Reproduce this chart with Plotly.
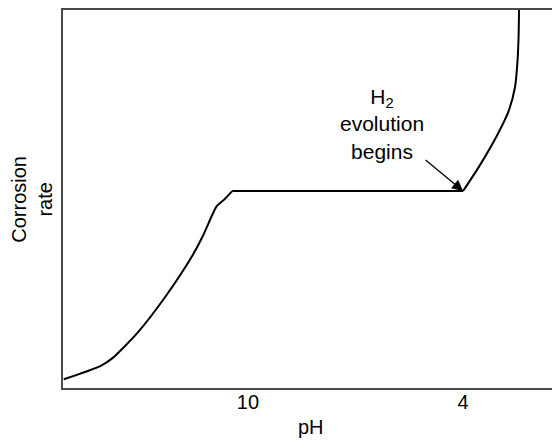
import plotly.graph_objects as go

# Corrosion rate vs pH (qualitative curve, arbitrary rate units 0-100)
ph_alkaline = [15.14, 14.12, 13.78, 13.09, 12.30, 11.57, 11.27, 11.02, 10.88, 10.68, 10.44]
rate_alkaline = [2.3, 5.8, 7.9, 14.5, 24.2, 34.7, 40.0, 45.3, 48.0, 49.7, 52.1]

ph_plateau = [10.44, 4.0]
rate_plateau = [52.1, 52.1]

ph_acid = [4.0, 3.56, 3.02, 2.72, 2.55, 2.48, 2.45, 2.44]
rate_acid = [52.1, 58.5, 67.4, 73.5, 79.7, 86.8, 93.8, 100.0]

tick_values = [10, 4]
tick_labels = ["10", "4"]

ph_range = [15.16, 1.52]
rate_range = [0, 100]

FONT = "Liberation Sans, Arial, Helvetica, sans-serif"
LINE = dict(color="black", width=2)

fig = go.Figure()
fig.add_trace(go.Scatter(x=ph_alkaline, y=rate_alkaline, mode="lines",
                         line=dict(shape="spline", smoothing=0.6, **LINE)))
fig.add_trace(go.Scatter(x=ph_plateau, y=rate_plateau, mode="lines", line=LINE))
fig.add_trace(go.Scatter(x=ph_acid, y=rate_acid, mode="lines",
                         line=dict(shape="spline", smoothing=0.6, **LINE)))

# Label with an arrow pointing to the onset of hydrogen evolution
fig.add_annotation(x=ph_plateau[-1], y=rate_plateau[-1], xref="x", yref="y",
                   text="H<sub>2</sub><br>evolution<br>begins",
                   showarrow=True, ax=-81, ay=-67,
                   arrowhead=2, arrowsize=1.7, arrowwidth=1.3,
                   arrowcolor="black", standoff=0, align="center",
                   font=dict(family=FONT, size=21, color="black"))

# Axis titles
fig.add_annotation(x=-0.064, y=0.5, xref="paper", yref="paper",
                   text="Corrosion<br>rate", textangle=-90, showarrow=False,
                   xanchor="center", yanchor="middle", align="center",
                   font=dict(family=FONT, size=20, color="black"))
fig.add_annotation(x=0.507, y=-0.103, xref="paper", yref="paper",
                   text="pH", showarrow=False, xanchor="center", yanchor="middle",
                   font=dict(family=FONT, size=20, color="black"))

fig.update_layout(
    width=552, height=440,
    margin=dict(l=63, r=0, t=10, b=52),
    paper_bgcolor="white", plot_bgcolor="white",
    showlegend=False,
    font=dict(family=FONT, size=20, color="black"),
)
fig.update_xaxes(range=ph_range, tickvals=tick_values, ticktext=tick_labels,
                 showgrid=False, zeroline=False, ticks="", ticklen=0,
                 ticklabelstandoff=-5,
                 showline=True, mirror=True, linecolor="#4a4a4a", linewidth=1.5,
                 tickfont=dict(family=FONT, size=20, color="black"))
fig.update_yaxes(range=rate_range, showticklabels=False, showgrid=False,
                 zeroline=False, ticks="",
                 showline=True, linecolor="#4a4a4a", linewidth=1.5)

fig.write_html("out.html")
